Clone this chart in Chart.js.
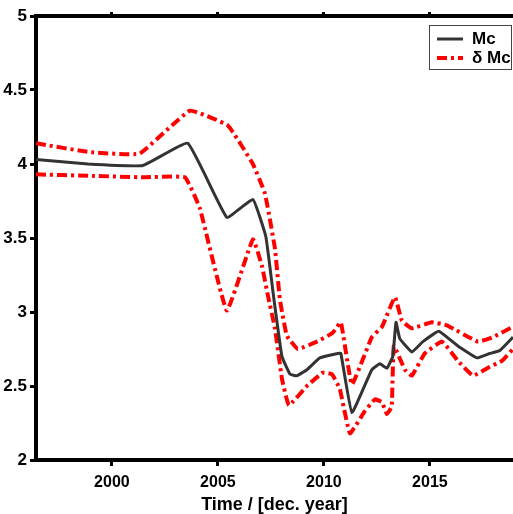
<!DOCTYPE html>
<html>
<head>
<meta charset="utf-8">
<script src="https://cdn.jsdelivr.net/npm/chart.js@4.4.1/dist/chart.umd.min.js"></script>
<style>
html, body { margin: 0; padding: 0; background: #fff; overflow: hidden; }
#wrap { position: absolute; left: -10px; top: 0; width: 523px; height: 530px; }
</style>
</head>
<body>
<div id="wrap"><canvas id="mcChart" width="523" height="530"></canvas></div>
<script>
// values
const mcYears = [1996.42, 1998.87, 2001.46, 2003.58, 2005.42, 2006.65, 2007.26, 2007.64, 2008.02, 2008.4, 2008.73, 2009.2, 2009.81, 2010.66, 2010.8, 2011.32, 2012.26, 2012.64, 2012.97, 2013.25, 2013.4, 2013.58, 2014.15, 2014.67, 2015.42, 2016.32, 2017.22, 2017.83, 2018.3, 2018.92];
const mcValues = [4.03, 4.00, 3.99, 4.14, 3.64, 3.76, 3.51, 3.09, 2.70, 2.58, 2.57, 2.61, 2.69, 2.72, 2.72, 2.32, 2.61, 2.65, 2.62, 2.70, 2.93, 2.82, 2.73, 2.80, 2.87, 2.77, 2.69, 2.72, 2.74, 2.83];

const upperYears = [1996.42, 1998.96, 2001.3, 2003.68, 2005.47, 2006.65, 2007.22, 2007.69, 2007.92, 2008.25, 2008.77, 2009.67, 2010.42, 2010.8, 2011.32, 2012.26, 2012.74, 2013.35, 2013.68, 2014.15, 2015.09, 2015.8, 2017.26, 2017.97, 2018.92];
const upperValues = [4.14, 4.08, 4.07, 4.36, 4.26, 4.00, 3.80, 3.43, 3.09, 2.84, 2.75, 2.80, 2.86, 2.93, 2.51, 2.83, 2.90, 3.10, 2.94, 2.89, 2.93, 2.91, 2.80, 2.83, 2.90];

const lowerYears = [1996.42, 1999.0, 2001.46, 2003.44, 2004.15, 2005.42, 2006.65, 2007.08, 2007.36, 2007.69, 2008.02, 2008.35, 2009.2, 2009.95, 2010.38, 2010.75, 2011.23, 2011.93, 2012.41, 2012.74, 2012.97, 2013.2, 2013.3, 2013.82, 2014.15, 2014.76, 2015.57, 2016.32, 2017.03, 2017.83, 2018.4, 2018.92];
const lowerValues = [3.93, 3.92, 3.91, 3.91, 3.70, 3.01, 3.49, 3.31, 3.11, 2.89, 2.55, 2.37, 2.50, 2.59, 2.58, 2.48, 2.18, 2.33, 2.41, 2.39, 2.31, 2.36, 2.77, 2.61, 2.57, 2.72, 2.80, 2.67, 2.57, 2.63, 2.67, 2.75];

const xTicks = [2000, 2005, 2010, 2015];
const yTicks = [2, 2.5, 3, 3.5, 4, 4.5, 5];

const FONT = "'Liberation Sans Narrow', 'Liberation Sans', Arial, sans-serif";

function toPoints(xs, ys) {
    return xs.map((x, i) => ({ x: x, y: ys[i] }));
}

// legend drawn inside the plot, top right, with a thin frame
const legendBox = {
    id: 'legendBox',
    afterDatasetsDraw(chart) {
        const ctx = chart.ctx;
        const items = chart.data.datasets.filter(d => d.label);
        const bx = chart.chartArea.right - 84;
        const by = chart.chartArea.top + 9;
        ctx.save();
        ctx.fillStyle = '#fff';
        ctx.fillRect(bx, by, 82, 44);
        ctx.strokeStyle = '#444';
        ctx.lineWidth = 1;
        ctx.strokeRect(bx + 0.5, by + 0.5, 82, 44);
        items.forEach((d, i) => {
            const ly = by + 14 + i * 19;
            ctx.strokeStyle = d.borderColor;
            ctx.lineWidth = d.borderWidth;
            ctx.setLineDash(d.borderDash || []);
            ctx.beginPath();
            ctx.moveTo(bx + 8, ly);
            ctx.lineTo(bx + 34, ly);
            ctx.stroke();
            ctx.setLineDash([]);
            ctx.fillStyle = '#000';
            ctx.font = 'bold 17px ' + FONT;
            ctx.textBaseline = 'middle';
            ctx.fillText(d.label, bx + 43, ly);
        });
        ctx.restore();
    }
};

const ctx = document.getElementById('mcChart').getContext('2d');
const chart = new Chart(ctx, {
    type: 'line',
    data: {
        datasets: [{
            label: 'Mc',
            data: toPoints(mcYears, mcValues),
            borderColor: '#333333',
            borderWidth: 3,
            pointRadius: 0,
            tension: 0.1
        }, {
            label: 'δ Mc',
            data: toPoints(upperYears, upperValues),
            borderColor: '#ff0000',
            borderWidth: 4,
            borderDash: [10, 4, 3, 4],
            pointRadius: 0,
            tension: 0.1
        }, {
            label: '',
            data: toPoints(lowerYears, lowerValues),
            borderColor: '#ff0000',
            borderWidth: 4,
            borderDash: [10, 4, 3, 4],
            pointRadius: 0,
            tension: 0.1
        }]
    },
    options: {
        responsive: false,
        animation: false,
        layout: { padding: 0 },
        plugins: {
            legend: { display: false },
            tooltip: { enabled: false }
        },
        scales: {
            x: {
                type: 'linear',
                position: 'bottom',
                min: 1996.42,
                max: 2018.92,
                afterBuildTicks: s => { s.ticks = xTicks.map(v => ({ value: v })); },
                afterFit: s => { s.height = 70; },
                border: { display: true, color: '#000', width: 4 },
                grid: { drawOnChartArea: false, color: '#000', lineWidth: 3, tickLength: 6 },
                ticks: {
                    color: '#000',
                    padding: 7,
                    maxRotation: 0,
                    font: { family: FONT, size: 16, weight: 'bold' },
                    callback: v => String(v)
                },
                title: {
                    display: true,
                    text: 'Time / [dec. year]',
                    color: '#000',
                    padding: { top: 0, bottom: 14 },
                    font: { family: FONT, size: 18, weight: 'bold' }
                }
            },
            x2: {
                type: 'linear',
                position: 'top',
                min: 1996.42,
                max: 2018.92,
                afterBuildTicks: s => { s.ticks = xTicks.map(v => ({ value: v })); },
                afterFit: s => { s.height = 16; },
                border: { display: true, color: '#000', width: 4 },
                grid: { drawOnChartArea: false, color: '#000', lineWidth: 3, tickLength: 4 },
                ticks: { display: false }
            },
            y: {
                min: 2,
                max: 5,
                afterBuildTicks: s => { s.ticks = yTicks.map(v => ({ value: v })); },
                afterFit: s => { s.width = 46; },
                border: { display: true, color: '#000', width: 4 },
                grid: { drawOnChartArea: false, color: '#000', lineWidth: 3, tickLength: 6 },
                ticks: {
                    color: '#000',
                    padding: 3,
                    font: { family: FONT, size: 17, weight: 'bold' },
                    callback: v => String(v)
                }
            }
        }
    },
    plugins: [legendBox]
});
</script>
</body>
</html>
